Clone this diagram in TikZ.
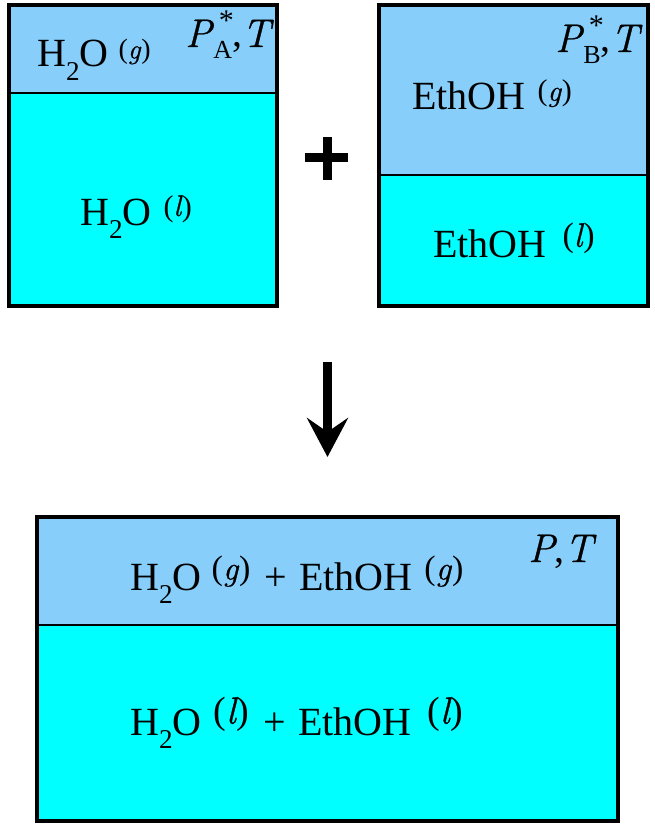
\documentclass[tikz,border=0pt]{standalone}
\usepackage{fontspec}
\newfontfamily\tms{Liberation Serif}
\newfontfamily\lmr{Latin Modern Roman}[FakeBold=0.8]
\usetikzlibrary{arrows.meta}
\definecolor{gasblue}{RGB}{135,206,250}
\definecolor{liqcyan}{RGB}{0,255,255}
\newcommand{\iv}[1]{{\lmr\itshape #1}}
\newcommand{\chsub}[1]{\raisebox{-0.33em}{\scalebox{0.68}{#1}}}
\newcommand{\phase}[2]{{\fontsize{#1pt}{#1pt}\selectfont\raisebox{0.3em}{(\iv{#2}\kern0.03em)}}}
\newcommand{\PT}[1]{\iv{P}\rlap{\kern0.18em\raisebox{0.42em}{\scalebox{0.75}{*}}}\kern0.04em\raisebox{-0.3em}{\scalebox{0.65}{#1}},\iv{T}}
\begin{document}
\begin{tikzpicture}[x=1pt,y=-1pt,
  cell/.style={draw=black, line width=1.5pt, inner sep=0pt, outer sep=0pt},
  frame/.style={draw=black, line width=4pt, inner sep=0pt, outer sep=0pt},
  lbl/.style={anchor=base west, inner sep=0pt, font=\tms\fontsize{40pt}{40pt}\selectfont}]
\useasboundingbox (0,0) rectangle (654,829);
% box 1
\node[cell, fill=gasblue, minimum width=268, minimum height=88] (g1) at (143,49) {};
\node[cell, fill=liqcyan, minimum width=268, minimum height=213] (l1) at (143,199.5) {};
\node[frame, minimum width=268, minimum height=301] (box1) at (143,155.5) {};
% box 2
\node[cell, fill=gasblue, minimum width=269, minimum height=170] (g2) at (513.5,90) {};
\node[cell, fill=liqcyan, minimum width=269, minimum height=131] (l2) at (513.5,240.5) {};
\node[frame, minimum width=269, minimum height=301] (box2) at (513.5,155.5) {};
% box 3
\node[cell, fill=gasblue, minimum width=581, minimum height=108] (g3) at (327.5,571) {};
\node[cell, fill=liqcyan, minimum width=581, minimum height=196] (l3) at (327.5,723) {};
\node[frame, minimum width=581, minimum height=304] (box3) at (327.5,669) {};
% plus
\draw[line width=9pt] (305,158) -- (348,158);
\draw[line width=9pt] (327.5,137) -- (327.5,180);
% arrow
\coordinate (a1) at (327.5,362);
\coordinate (a2) at (327.5,457);
\draw[line width=9pt, -{Stealth[length=39pt,width=41pt,inset=14pt]}] (a1) -- (a2);
% labels
\node[lbl] (t1g) at (37,67) {H\chsub{2}O\hspace{0.25em}\phase{28}{g}};
\node[lbl] (t1p) at (185,47) {\PT{A}};
\node[lbl] (t1l) at (80,225) {H\chsub{2}O\hspace{0.3em}\phase{30}{l}};
\node[lbl] (t2p) at (555,52) {\PT{B}};
\node[lbl] (t2g) at (412,110) {EthOH\hspace{0.3em}\phase{30}{g}};
\node[lbl] (t2l) at (433,257) {EthOH\hspace{0.4em}\phase{34}{l}};
\node[lbl] (t3p) at (528,562) {\iv{P},\iv{T}};
\node[lbl] (t3g) at (130,590) {H\chsub{2}O\hspace{0.25em}\phase{34}{g}\hspace{0.35em}+\hspace{0.3em}EthOH\hspace{0.3em}\phase{34}{g}};
\node[lbl] (t3l) at (130,735) {H\chsub{2}O\hspace{0.3em}\phase{38}{l}\hspace{0.35em}+\hspace{0.3em}EthOH\hspace{0.4em}\phase{38}{l}};
\end{tikzpicture}
\end{document}
